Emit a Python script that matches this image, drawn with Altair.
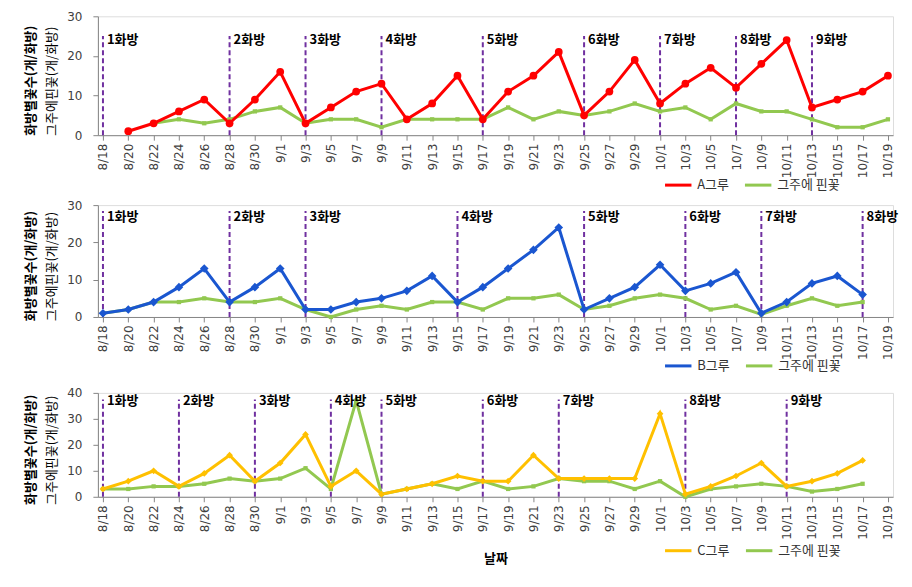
import altair as alt
import pandas as pd

dates = ["8/18", "8/20", "8/22", "8/24", "8/26", "8/28", "8/30", "9/1", "9/3", "9/5",
         "9/7", "9/9", "9/11", "9/13", "9/15", "9/17", "9/19", "9/21", "9/23", "9/25",
         "9/27", "9/29", "10/1", "10/3", "10/5", "10/7", "10/9", "10/11", "10/13", "10/15",
         "10/17", "10/19"]

green_name = "그주에 핀꽃"

a_name = "A그루"
a_vals = [None, 1, 3, 6, 9, 3, 9, 16, 3, 7, 11, 13, 4, 8, 15, 4, 11, 15, 21, 5,
          11, 19, 8, 13, 17, 12, 18, 24, 7, 9, 11, 15]
a_green = [None, None, 3, 4, 3, 4, 6, 7, 3, 4, 4, 2, 4, 4, 4, 4, 7, 4, 6, 5,
           6, 8, 6, 7, 4, 8, 6, 6, 4, 2, 2, 4]
a_dash_dates = ["8/18", "8/28", "9/3", "9/9", "9/17", "9/25", "10/1", "10/7", "10/13"]

b_name = "B그루"
b_vals = [1, 2, 4, 8, 13, 4, 8, 13, 2, 2, 4, 5, 7, 11, 4, 8, 13, 18, 24, 2,
          5, 8, 14, 7, 9, 12, 1, 4, 9, 11, 6, None]
b_green = [1, 2, 4, 4, 5, 4, 4, 5, 2, 0, 2, 3, 2, 4, 4, 2, 5, 5, 6, 2,
           3, 5, 6, 5, 2, 3, 0.7, 3, 5, 3, 4, None]
b_dash_dates = ["8/18", "8/28", "9/3", "9/15", "9/25", "10/3", "10/9", "10/17"]

c_name = "C그루"
c_vals = [3, 6, 10, 4, 9, 16, 6, 13, 24, 4, 10, 1, 3, 5, 8, 6, 6, 16, 7, 7,
          7, 7, 32, 1, 4, 8, 13, 4, 6, 9, 14, None]
c_green = [3, 3, 4, 4, 5, 7, 6, 7, 11, 3, 37, 1, 3, 5, 3, 6, 3, 4, 7, 6,
           6, 3, 6, 0, 3, 4, 5, 4, 2, 3, 5, None]
c_dash_dates = ["8/18", "8/24", "8/30", "9/5", "9/9", "9/17", "9/23", "10/3", "10/11"]

cluster_labels = ["1화방", "2화방", "3화방", "4화방", "5화방", "6화방", "7화방", "8화방", "9화방"]

ytitle_bold = "화방별꽃수(개/화방)"
ytitle_normal = "그주에핀꽃(개/화방)"

GREEN = "#92C850"
W = 796
FONT = "Noto Sans CJK KR"
NUMFONT = "DejaVu Sans"


def panel(main_name, main_vals, green_vals, main_color, shape, msize,
          ymax, h, dash_dates, dash_top, label_y, legend_y, xtitle):
    rows = []
    for d, v in zip(dates, main_vals):
        if v is not None:
            rows.append({"date": d, "series": main_name, "value": v})
    for d, v in zip(dates, green_vals):
        if v is not None:
            rows.append({"date": d, "series": green_name, "value": v})
    df = pd.DataFrame(rows)
    df_main = df[df.series == main_name]
    df_green = df[df.series == green_name]

    dash_df = pd.DataFrame({
        "date": dash_dates,
        "label": cluster_labels[:len(dash_dates)],
        "top": [dash_top] * len(dash_dates),
        "zero": [0] * len(dash_dates),
        "ly": [label_y] * len(dash_dates),
    })

    axis_kw = dict(labelAngle=270, labelFont=NUMFONT, labelFontSize=12,
                   labelColor="#404040", domainColor="#868686", tickColor="#868686",
                   tickSize=5, labelPadding=3, grid=False)
    if xtitle:
        xaxis = alt.Axis(title=xtitle, titleFont=FONT, titleFontSize=13,
                         titleFontWeight="bold", titleColor="#000000", titleY=62,
                         titleBaseline="middle", **axis_kw)
    else:
        xaxis = alt.Axis(**axis_kw)
    xscale = alt.Scale(type="point", domain=dates, padding=0.2)
    x = alt.X("date:N", scale=xscale, axis=xaxis, title=xtitle if xtitle else None)
    yscale = alt.Scale(domain=[0, ymax], nice=False)
    yaxis = alt.Axis(values=list(range(0, ymax + 1, 10)), labelFont=NUMFONT, labelFontSize=12,
                     labelColor="#404040", domainColor="#868686", tickColor="#868686",
                     tickSize=5, labelPadding=11, grid=False,
                     title=ytitle_normal, titleFont=FONT, titleFontSize=13,
                     titleFontWeight="normal", titleColor="#000000", titleAngle=270,
                     titleX=-46, titleY=h / 2 + 5, titleBaseline="middle", titleAlign="center")
    y = alt.Y("value:Q", scale=yscale, axis=yaxis)

    color = alt.Color("series:N",
                      scale=alt.Scale(domain=[main_name, green_name], range=[main_color, GREEN]),
                      legend=alt.Legend(title=None, orient="none", legendX=566, legendY=legend_y,
                                        direction="horizontal", symbolType="stroke",
                                        symbolStrokeWidth=3, symbolSize=700,
                                        labelFont=FONT, labelFontSize=13, labelColor="#333333",
                                        columnPadding=9, labelLimit=200))

    rules = alt.Chart(dash_df).mark_rule(color="#7030A0", strokeDash=[5, 3], strokeWidth=2).encode(
        x=alt.X("date:N", scale=xscale, axis=xaxis),
        y=alt.Y("zero:Q", scale=yscale, axis=yaxis),
        y2="top:Q")
    labels = alt.Chart(dash_df).mark_text(align="left", baseline="middle", dx=4, font=FONT,
                                          fontSize=13, fontWeight="bold", color="#000000").encode(
        x=alt.X("date:N", scale=xscale, axis=xaxis),
        y=alt.Y("ly:Q", scale=yscale, axis=yaxis),
        text="label:N")
    gline = alt.Chart(df_green).mark_line(strokeWidth=3).encode(x=x, y=y, color=color)
    mline = alt.Chart(df_main).mark_line(strokeWidth=3).encode(x=x, y=y, color=color)
    gpts = alt.Chart(df_green).mark_point(shape="square", filled=True, size=18, opacity=1,
                                          color=GREEN).encode(x=x, y=y)
    mpts = alt.Chart(df_main).mark_point(shape=shape, filled=True, size=msize, opacity=1,
                                         color=main_color).encode(x=x, y=y)
    tdf = pd.DataFrame({"t": [ytitle_bold]})
    btitle = alt.Chart(tdf).mark_text(angle=270, align="center", baseline="middle", font=FONT,
                                      fontSize=13, fontWeight="bold", color="#000000").encode(
        x=alt.value(-67), y=alt.value(h / 2 + 5), text="t:N")

    return alt.layer(rules, gline, mline, gpts, mpts, labels, btitle).properties(width=W, height=h)


p1 = panel(a_name, a_vals, a_green, "#FF0000", "circle", 60, 30, 119,
           a_dash_dates, 25, 24, 154, None)
p2 = panel(b_name, b_vals, b_green, "#1A56D0", "diamond", 75, 30, 112,
           b_dash_dates, 28.4, 26.8, 146, None)
p3 = panel(c_name, c_vals, c_green, "#FFC000", "diamond", 45, 40, 104,
           c_dash_dates, 37.5, 37, 143, "날짜")

chart = alt.vconcat(
    alt.vconcat(p1, p2, spacing=5).resolve_scale(color="independent"),
    p3, spacing=12
).resolve_scale(color="independent").properties(
    padding={"left": 16, "top": 1, "right": 5, "bottom": 5}
).configure_view(stroke=None).configure(background="white")

chart.save("out.html", embed_options={"renderer": "svg", "actions": False})
